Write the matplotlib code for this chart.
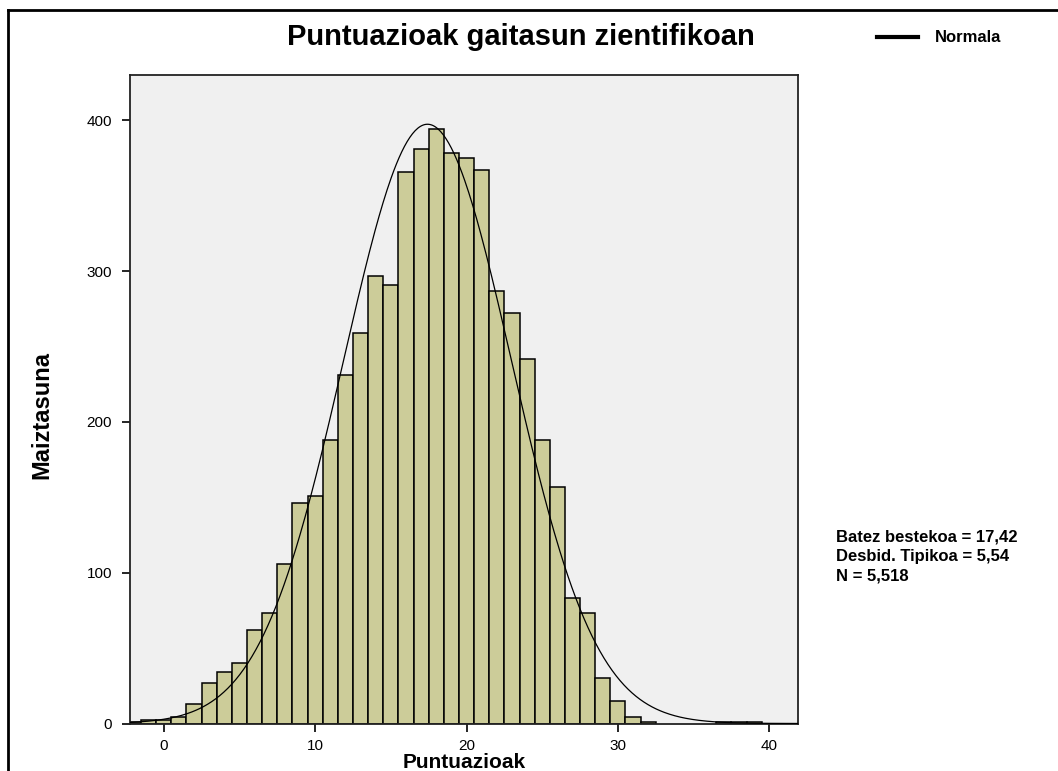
import numpy as np
import matplotlib
matplotlib.use("Agg")
import matplotlib.pyplot as plt
from matplotlib.lines import Line2D

# Histogram data (bin width 1, centred on integers)
bin_centers = [-2, -1, 0, 1, 2, 3, 4, 5, 6, 7, 8, 9, 10, 11, 12, 13, 14, 15,
               16, 17, 18, 19, 20, 21, 22, 23, 24, 25, 26, 27, 28, 29, 30,
               31, 32, 37, 38, 39]
counts = [1, 2, 2, 4, 13, 27, 34, 40, 62, 73, 106, 146, 151, 188, 231, 259,
          297, 291, 366, 381, 394, 378, 375, 367, 287, 272, 242, 188, 157,
          83, 73, 30, 15, 4, 1, 1, 1, 1]

# Summary statistics shown on the chart
mean_val = 17.42
sd_val = 5.54
n_val = 5518
stats_lines = ["Batez bestekoa = 17,42", "Desbid. Tipikoa = 5,54", "N = 5,518"]

x_ticks = [0, 10, 20, 30, 40]
y_ticks = [0, 100, 200, 300, 400]

BAR_COLOR = "#CCCC99"
BG_COLOR = "#F0F0F0"

plt.rcParams["font.family"] = ["Liberation Sans", "DejaVu Sans"]

fig = plt.figure(figsize=(10.58, 7.71), dpi=100)
ax = fig.add_axes([0.1229, 0.0616, 0.6314, 0.8411])
ax.set_facecolor(BG_COLOR)

ax.bar(bin_centers, counts, width=1.0, color=BAR_COLOR,
       edgecolor="black", linewidth=1.1, zorder=2)

# Normal curve scaled to counts (bin width 1)
xs = np.linspace(-2.23, 41.9, 500)
pdf = n_val / (sd_val * np.sqrt(2 * np.pi)) * np.exp(-0.5 * ((xs - mean_val) / sd_val) ** 2)
ax.plot(xs, pdf, color="black", linewidth=0.9, zorder=3)

ax.set_xlim(-2.23, 41.9)
ax.set_ylim(0, 430)
ax.set_xticks(x_ticks)
ax.set_yticks(y_ticks)
ax.tick_params(direction="out", length=6, width=1.2, labelsize=11,
               colors="black", pad=5)
ax.tick_params(axis="y", pad=7)
for sp in ax.spines.values():
    sp.set_linewidth(1.3)
    sp.set_color("#222222")

ax.set_xlabel("Puntuazioak", fontsize=15, fontweight="bold")
ax.xaxis.set_label_coords(0.5, -0.045)
ax.set_ylabel("Maiztasuna", fontsize=17, fontweight="bold")
ax.yaxis.set_label_coords(-0.115, 0.476)

fig.text(0.492, 0.952, "Puntuazioak gaitasun zientifikoan", ha="center", va="center",
         fontsize=21, fontweight="bold")

# Legend entry drawn in figure space
fig.add_artist(Line2D([0.829, 0.868], [0.952, 0.952], color="black",
                      linewidth=3, transform=fig.transFigure))
fig.text(0.884, 0.952, "Normala", ha="left", va="center", fontsize=12,
         fontweight="bold")

fig.text(0.790, 0.278, "\n".join(stats_lines), ha="left", va="center",
         fontsize=12, fontweight="bold", linespacing=1.38)

# Frame on the left and top edges of the figure
fig.add_artist(Line2D([0.0075, 0.0075], [0.0, 0.987], color="black",
                      linewidth=2, transform=fig.transFigure))
fig.add_artist(Line2D([0.0075, 1.0], [0.987, 0.987], color="black",
                      linewidth=2, transform=fig.transFigure))

fig.savefig("out.png", dpi=100)
